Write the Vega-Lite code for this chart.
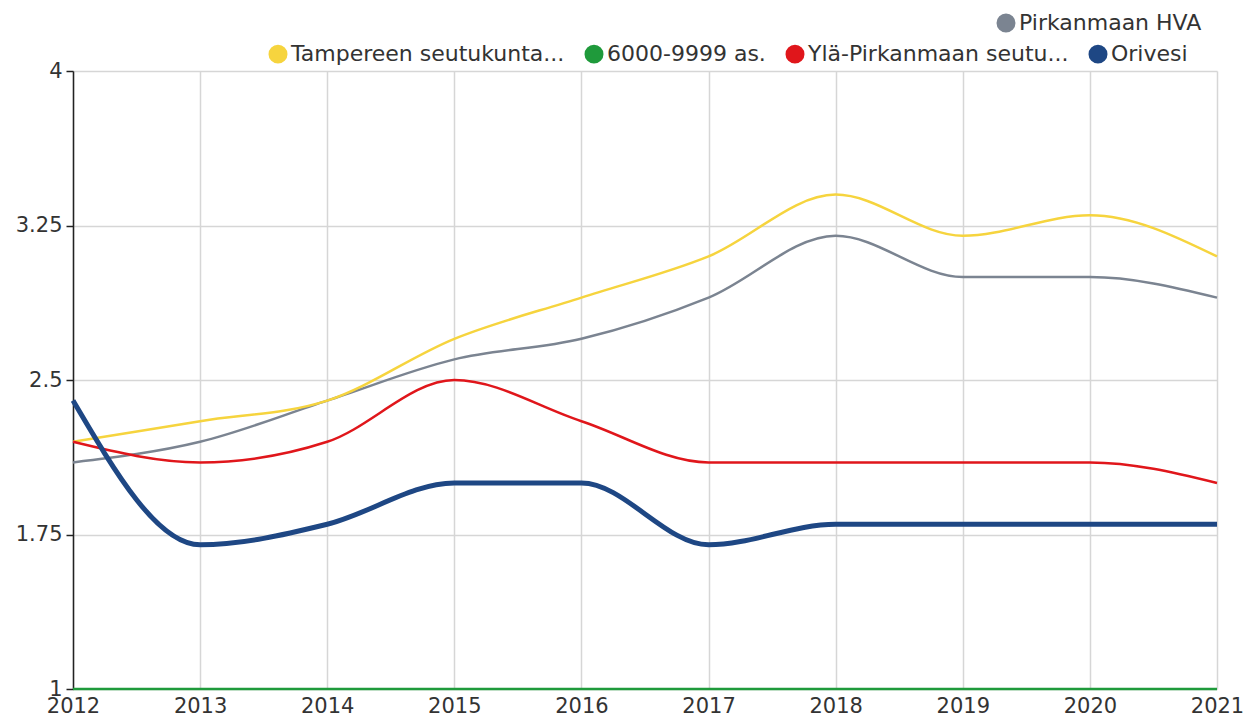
{
  "$schema": "https://vega.github.io/schema/vega-lite/v6.json",
  "width": 1144,
  "height": 618,
  "autosize": {"type": "none"},
  "padding": {"left": 73, "top": 71, "right": 39, "bottom": 33},
  "background": "white",
  "config": {
    "font": "DejaVu Sans",
    "view": {"stroke": null},
    "axis": {"labelFont": "DejaVu Sans", "labelFontSize": 21, "labelColor": "#333", "gridColor": "#d6d6d6", "gridWidth": 1.5, "tickColor": "#222", "domainColor": "#222", "domainWidth": 1.5, "tickSize": 7, "tickWidth": 1.5, "title": null},
    "legend": {"labelFont": "DejaVu Sans", "labelFontSize": 22, "labelColor": "#333", "symbolType": "circle", "symbolSize": 90, "symbolStrokeWidth": 9.5, "title": null, "orient": "none", "direction": "horizontal", "labelOffset": 2, "columnPadding": 5, "labelLimit": 400}
  },
  "data": {
    "values": [
      {"year": 2012, "s": "Pirkanmaan HVA", "v": 2.1},
      {"year": 2013, "s": "Pirkanmaan HVA", "v": 2.2},
      {"year": 2014, "s": "Pirkanmaan HVA", "v": 2.4},
      {"year": 2015, "s": "Pirkanmaan HVA", "v": 2.6},
      {"year": 2016, "s": "Pirkanmaan HVA", "v": 2.7},
      {"year": 2017, "s": "Pirkanmaan HVA", "v": 2.9},
      {"year": 2018, "s": "Pirkanmaan HVA", "v": 3.2},
      {"year": 2019, "s": "Pirkanmaan HVA", "v": 3.0},
      {"year": 2020, "s": "Pirkanmaan HVA", "v": 3.0},
      {"year": 2021, "s": "Pirkanmaan HVA", "v": 2.9},
      {"year": 2012, "s": "Tampereen seutukunta...", "v": 2.2},
      {"year": 2013, "s": "Tampereen seutukunta...", "v": 2.3},
      {"year": 2014, "s": "Tampereen seutukunta...", "v": 2.4},
      {"year": 2015, "s": "Tampereen seutukunta...", "v": 2.7},
      {"year": 2016, "s": "Tampereen seutukunta...", "v": 2.9},
      {"year": 2017, "s": "Tampereen seutukunta...", "v": 3.1},
      {"year": 2018, "s": "Tampereen seutukunta...", "v": 3.4},
      {"year": 2019, "s": "Tampereen seutukunta...", "v": 3.2},
      {"year": 2020, "s": "Tampereen seutukunta...", "v": 3.3},
      {"year": 2021, "s": "Tampereen seutukunta...", "v": 3.1},
      {"year": 2012, "s": "6000-9999 as.", "v": 1.0},
      {"year": 2013, "s": "6000-9999 as.", "v": 1.0},
      {"year": 2014, "s": "6000-9999 as.", "v": 1.0},
      {"year": 2015, "s": "6000-9999 as.", "v": 1.0},
      {"year": 2016, "s": "6000-9999 as.", "v": 1.0},
      {"year": 2017, "s": "6000-9999 as.", "v": 1.0},
      {"year": 2018, "s": "6000-9999 as.", "v": 1.0},
      {"year": 2019, "s": "6000-9999 as.", "v": 1.0},
      {"year": 2020, "s": "6000-9999 as.", "v": 1.0},
      {"year": 2021, "s": "6000-9999 as.", "v": 1.0},
      {"year": 2012, "s": "Ylä-Pirkanmaan seutu...", "v": 2.2},
      {"year": 2013, "s": "Ylä-Pirkanmaan seutu...", "v": 2.1},
      {"year": 2014, "s": "Ylä-Pirkanmaan seutu...", "v": 2.2},
      {"year": 2015, "s": "Ylä-Pirkanmaan seutu...", "v": 2.5},
      {"year": 2016, "s": "Ylä-Pirkanmaan seutu...", "v": 2.3},
      {"year": 2017, "s": "Ylä-Pirkanmaan seutu...", "v": 2.1},
      {"year": 2018, "s": "Ylä-Pirkanmaan seutu...", "v": 2.1},
      {"year": 2019, "s": "Ylä-Pirkanmaan seutu...", "v": 2.1},
      {"year": 2020, "s": "Ylä-Pirkanmaan seutu...", "v": 2.1},
      {"year": 2021, "s": "Ylä-Pirkanmaan seutu...", "v": 2.0},
      {"year": 2012, "s": "Orivesi", "v": 2.4},
      {"year": 2013, "s": "Orivesi", "v": 1.7},
      {"year": 2014, "s": "Orivesi", "v": 1.8},
      {"year": 2015, "s": "Orivesi", "v": 2.0},
      {"year": 2016, "s": "Orivesi", "v": 2.0},
      {"year": 2017, "s": "Orivesi", "v": 1.7},
      {"year": 2018, "s": "Orivesi", "v": 1.8},
      {"year": 2019, "s": "Orivesi", "v": 1.8},
      {"year": 2020, "s": "Orivesi", "v": 1.8},
      {"year": 2021, "s": "Orivesi", "v": 1.8}
    ]
  },
  "encoding": {
    "x": {"field": "year", "type": "quantitative", "scale": {"domain": [2012, 2021], "nice": false, "zero": false},
      "axis": {"values": [2012, 2013, 2014, 2015, 2016, 2017, 2018, 2019, 2020, 2021], "format": "d", "domain": false, "ticks": false, "labelPadding": 6, "labelFlush": false}},
    "y": {"field": "v", "type": "quantitative", "scale": {"domain": [1, 4], "nice": false, "zero": false},
      "axis": {"values": [1, 1.75, 2.5, 3.25, 4], "format": ".2~f", "labelPadding": 4}}
  },
  "layer": [
    {
      "transform": [{"filter": "datum.s === 'Pirkanmaan HVA'"}],
      "mark": {"type": "line", "interpolate": "monotone", "strokeWidth": 2.5},
      "encoding": {
        "color": {"field": "s", "type": "nominal", "scale": {"domain": ["Pirkanmaan HVA"], "range": ["#7b8491"]},
          "legend": {"legendX": 922, "legendY": -59}}
      }
    },
    {
      "transform": [{"filter": "datum.s !== 'Pirkanmaan HVA'"}],
      "mark": {"type": "line", "interpolate": "monotone"},
      "encoding": {
        "color": {"field": "s", "type": "nominal", "sort": null,
          "scale": {"domain": ["Tampereen seutukunta...", "6000-9999 as.", "Ylä-Pirkanmaan seutu...", "Orivesi"], "range": ["#f6d43e", "#1f9a3b", "#e0161b", "#1e4784"]},
          "legend": {"legendX": 194, "legendY": -28}},
        "strokeWidth": {"condition": {"test": "datum.s === 'Orivesi'", "value": 5}, "value": 2.5}
      }
    }
  ],
  "resolve": {"scale": {"color": "independent"}}
}
